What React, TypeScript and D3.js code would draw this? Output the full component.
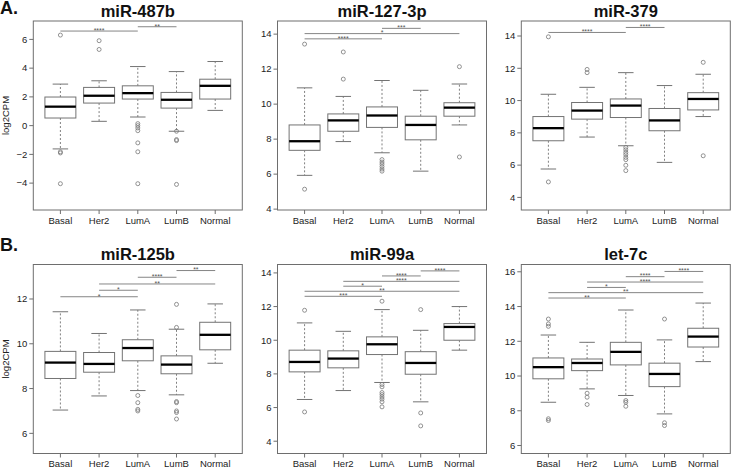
import React from "react";
import * as d3 from "d3";

// ---------- DATA ----------
const categories = ["Basal", "Her2", "LumA", "LumB", "Normal"];

// stats per category: [lowWhisker, q1, median, q3, highWhisker]
const mir487bStats = [
  [-1.62, 0.53, 1.32, 1.99, 2.89],
  [0.3, 1.57, 2.08, 2.66, 3.12],
  [0.6, 1.85, 2.26, 2.77, 4.11],
  [-0.39, 1.22, 1.8, 2.31, 3.76],
  [1.06, 1.85, 2.77, 3.23, 4.46],
];
const mir487bOutliers = [
  [6.3, -1.82, -1.9, -4.04],
  [5.91, 5.3],
  [0.14, 0.0, -0.16, -0.35, -1.2, -1.82, -4.04],
  [-0.39, -0.97, -1.04, -4.09],
  [],
];
const mir487bSig: [number, number, number, string][] = [
  [0, 2, 6.58, "****"],
  [2, 3, 6.88, "**"],
];
const mir487bTicks = [-4, -2, 0, 2, 4, 6];

const mir127Stats = [
  [5.93, 7.36, 7.88, 8.81, 10.93],
  [7.86, 8.45, 9.07, 9.44, 10.44],
  [7.22, 8.67, 9.35, 9.84, 11.35],
  [6.17, 7.96, 8.81, 9.31, 10.79],
  [8.81, 9.31, 9.8, 10.08, 11.15],
];
const mir127Outliers = [
  [13.43, 5.14],
  [12.98, 11.43],
  [6.83, 6.69, 6.57, 6.43, 6.29, 6.17],
  [],
  [12.14, 6.98],
];
const mir127Sig: [number, number, number, string][] = [
  [0, 2, 13.73, "****"],
  [0, 4, 14.03, "*"],
  [2, 3, 14.33, "***"],
];
const mir127Ticks = [4, 6, 8, 10, 12, 14];

const mir379Stats = [
  [5.76, 7.51, 8.29, 9.01, 10.39],
  [7.74, 8.85, 9.38, 9.88, 10.82],
  [7.2, 8.95, 9.69, 10.1, 11.73],
  [6.17, 8.13, 8.77, 9.51, 10.93],
  [9.01, 9.42, 10.1, 10.49, 11.63],
];
const mir379Outliers = [
  [13.95, 4.96],
  [11.93, 11.73],
  [7.1, 6.95, 6.79, 6.65, 6.48, 6.34, 5.99, 5.66],
  [],
  [12.37, 6.58],
];
const mir379Sig: [number, number, number, string][] = [
  [0, 2, 14.22, "****"],
  [2, 3, 14.53, "****"],
];
const mir379Ticks = [4, 6, 8, 10, 12, 14];

const mir125bStats = [
  [7.04, 8.45, 9.16, 9.66, 11.43],
  [7.67, 8.73, 9.1, 9.61, 10.46],
  [7.91, 9.24, 9.81, 10.18, 11.51],
  [7.72, 8.66, 9.07, 9.46, 10.65],
  [9.13, 9.73, 10.4, 10.96, 11.78],
];
const mir125bOutliers = [
  [],
  [],
  [7.69, 7.37, 7.07, 7.0],
  [11.76, 10.73, 7.42, 7.37, 7.0, 6.93, 6.64],
  [],
];
const mir125bSig: [number, number, number, string][] = [
  [0, 2, 12.1, "*"],
  [1, 2, 12.39, "*"],
  [1, 4, 12.67, "**"],
  [2, 3, 12.97, "****"],
  [3, 4, 13.27, "**"],
];
const mir125bTicks = [6, 8, 10, 12];

const mir99aStats = [
  [6.48, 8.12, 8.71, 9.41, 11.03],
  [7.01, 8.36, 8.91, 9.37, 10.53],
  [7.49, 9.15, 9.76, 10.2, 11.82],
  [6.34, 7.98, 8.65, 9.32, 10.59],
  [9.41, 10.0, 10.79, 10.99, 12.0],
];
const mir99aOutliers = [
  [11.78, 5.74],
  [],
  [12.32, 7.37, 7.23, 6.89, 6.77, 6.63, 6.5, 6.34, 6.04],
  [11.82, 5.68, 4.91],
  [],
];
const mir99aSig: [number, number, number, string][] = [
  [0, 2, 12.61, "***"],
  [0, 4, 12.91, "**"],
  [1, 2, 13.21, "*"],
  [1, 4, 13.5, "****"],
  [2, 3, 13.82, "****"],
  [3, 4, 14.12, "****"],
];
const mir99aTicks = [4, 6, 8, 10, 12, 14];

const let7cStats = [
  [8.49, 9.84, 10.51, 11.04, 12.36],
  [9.26, 10.31, 10.75, 10.98, 11.94],
  [8.88, 10.64, 11.39, 11.94, 13.8],
  [7.82, 9.39, 10.12, 10.74, 12.08],
  [10.83, 11.67, 12.27, 12.75, 14.2],
];
const let7cOutliers = [
  [13.28, 13.0, 12.86, 7.54, 7.44],
  [9.01, 8.78, 8.36],
  [8.59, 8.49, 8.26],
  [13.28, 7.31, 7.15],
  [],
];
const let7cSig: [number, number, number, string][] = [
  [0, 2, 14.49, "**"],
  [0, 4, 14.8, "**"],
  [1, 2, 15.1, "*"],
  [1, 4, 15.41, "****"],
  [2, 3, 15.72, "****"],
  [3, 4, 16.02, "****"],
];
const let7cTicks = [6, 8, 10, 12, 14, 16];

const titles = ["miR-487b", "miR-127-3p", "miR-379", "miR-125b", "miR-99a", "let-7c"];
const yDomains: [number, number][] = [
  [-5.87, 7.28],
  [3.95, 14.75],
  [3.22, 14.93],
  [5.1, 13.54],
  [3.27, 14.5],
  [5.54, 16.42],
];
const panelLabels = ["A.", "B."];
const yLabel = "log2CPM";

// ---------- LAYOUT ----------
const W = 731;
const H = 468;
const panelLefts = [33.3, 277.5, 521.3];
const panelW = 209;
const rowTops = [21, 264.5];
const panelH = 189;
const labelOffsets = [14.3, 13.2];
const FONT = "'Liberation Sans', Arial, Helvetica, sans-serif";

type PanelProps = {
  title: string;
  stats: number[][];
  outliers: number[][];
  sig: [number, number, number, string][];
  ticks: number[];
  domain: [number, number];
  left: number;
  top: number;
  labelOffset: number;
  showYLabel: boolean;
};

function Panel({ title, stats, outliers, sig, ticks, domain, left, top, labelOffset, showYLabel }: PanelProps) {
  const x = d3.scaleLinear().domain([0.3, 5.7]).range([left, left + panelW]);
  const y = d3.scaleLinear().domain(domain).range([top + panelH, top]);
  const boxW = (x(1.4) - x(1)) * 2; // 0.8 units
  const stapleW = boxW / 2;
  const bottom = top + panelH;
  const grey = "#737373";
  return (
    <g>
      <text
        x={left + panelW / 2}
        y={top - 4.5}
        textAnchor="middle"
        fontFamily={FONT}
        fontWeight="bold"
        fontSize={16.5}
        fill="#111"
      >
        {title}
      </text>
      {showYLabel && (
        <text
          transform={`translate(9,${top + panelH / 2}) rotate(-90)`}
          textAnchor="middle"
          fontFamily={FONT}
          fontSize={9.5}
          fill="#222"
        >
          {yLabel}
        </text>
      )}
      {/* frame */}
      <rect x={left} y={top} width={panelW} height={panelH} fill="none" stroke="#6e6e6e" strokeWidth={1} />
      {/* y ticks */}
      {ticks.map((t) => (
        <g key={"yt" + t}>
          <line x1={left - 4} x2={left} y1={y(t)} y2={y(t)} stroke="#6e6e6e" />
          <text
            x={left - 6}
            y={y(t) + 3.3}
            textAnchor="end"
            fontFamily={FONT}
            fontSize={9.5}
            fill="#222"
          >
            {t < 0 ? "\u2212" + Math.abs(t) : t}
          </text>
        </g>
      ))}
      {/* x ticks */}
      {categories.map((c, i) => (
        <g key={"xt" + c}>
          <line x1={x(i + 1)} x2={x(i + 1)} y1={bottom} y2={bottom + 4} stroke="#6e6e6e" />
          <text
            x={x(i + 1)}
            y={bottom + labelOffset}
            textAnchor="middle"
            fontFamily={FONT}
            fontSize={9.5}
            fill="#222"
          >
            {c}
          </text>
        </g>
      ))}
      {/* boxes */}
      {stats.map((s, i) => {
        const cx = x(i + 1);
        const [lo, q1, med, q3, hi] = s;
        return (
          <g key={"b" + i}>
            <line x1={cx} x2={cx} y1={y(q3)} y2={y(hi)} stroke={grey} strokeDasharray="2,2" strokeWidth={0.9} />
            <line x1={cx} x2={cx} y1={y(q1)} y2={y(lo)} stroke={grey} strokeDasharray="2,2" strokeWidth={0.9} />
            <line x1={cx - stapleW / 2} x2={cx + stapleW / 2} y1={y(hi)} y2={y(hi)} stroke={grey} />
            <line x1={cx - stapleW / 2} x2={cx + stapleW / 2} y1={y(lo)} y2={y(lo)} stroke={grey} />
            <rect
              x={cx - boxW / 2}
              y={y(q3)}
              width={boxW}
              height={y(q1) - y(q3)}
              fill="white"
              stroke={grey}
              strokeWidth={1}
            />
            <line x1={cx - boxW / 2} x2={cx + boxW / 2} y1={y(med)} y2={y(med)} stroke="#000" strokeWidth={2.3} />
            {outliers[i].map((o, j) => (
              <circle key={j} cx={cx} cy={y(o)} r={2} fill="none" stroke="#777" strokeWidth={0.8} />
            ))}
          </g>
        );
      })}
      {/* significance */}
      {sig.map(([a, b, v, lab], k) => (
        <g key={"s" + k}>
          <line x1={x(a + 1)} x2={x(b + 1)} y1={y(v)} y2={y(v)} stroke="#666" strokeWidth={0.8} />
          <text
            x={(x(a + 1) + x(b + 1)) / 2}
            y={y(v) + 1.8}
            textAnchor="middle"
            fontFamily={FONT}
            fontSize={7}
            fill="#555"
          >
            {lab}
          </text>
        </g>
      ))}
    </g>
  );
}

export default function App() {
  const panels = [
    { stats: mir487bStats, outliers: mir487bOutliers, sig: mir487bSig, ticks: mir487bTicks },
    { stats: mir127Stats, outliers: mir127Outliers, sig: mir127Sig, ticks: mir127Ticks },
    { stats: mir379Stats, outliers: mir379Outliers, sig: mir379Sig, ticks: mir379Ticks },
    { stats: mir125bStats, outliers: mir125bOutliers, sig: mir125bSig, ticks: mir125bTicks },
    { stats: mir99aStats, outliers: mir99aOutliers, sig: mir99aSig, ticks: mir99aTicks },
    { stats: let7cStats, outliers: let7cOutliers, sig: let7cSig, ticks: let7cTicks },
  ];
  return (
    <svg
      width={W}
      height={H}
      style={{ position: "absolute", left: 0, top: 0, background: "white" }}
    >
      <rect x={0} y={0} width={W} height={H} fill="white" />
      <text x={0} y={14} fontFamily={FONT} fontWeight="bold" fontSize={18} fill="#111">
        {panelLabels[0]}
      </text>
      <text x={0} y={250.5} fontFamily={FONT} fontWeight="bold" fontSize={18} fill="#111">
        {panelLabels[1]}
      </text>
      {panels.map((p, i) => (
        <Panel
          key={i}
          title={titles[i]}
          stats={p.stats}
          outliers={p.outliers}
          sig={p.sig}
          ticks={p.ticks}
          domain={yDomains[i]}
          left={panelLefts[i % 3]}
          top={rowTops[Math.floor(i / 3)]}
          labelOffset={labelOffsets[Math.floor(i / 3)]}
          showYLabel={i % 3 === 0}
        />
      ))}
    </svg>
  );
}
